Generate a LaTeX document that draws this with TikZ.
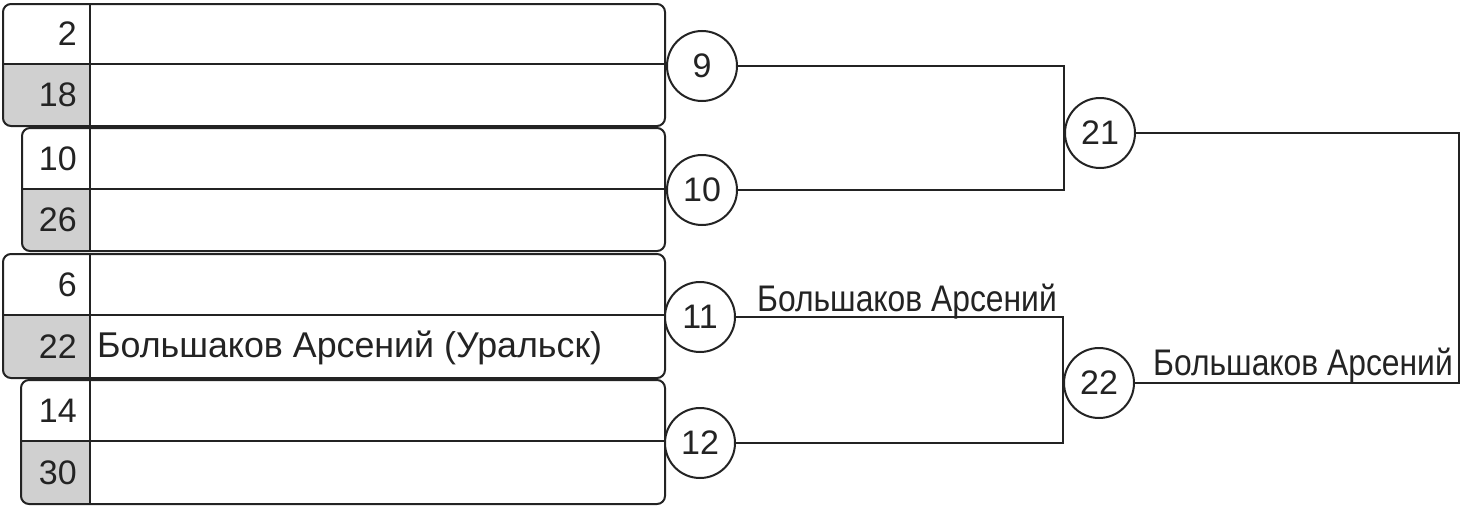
\documentclass[tikz,border=0pt]{standalone}
\usepackage{fontspec}
\setmainfont{Liberation Sans}
\usetikzlibrary{calc}
\definecolor{ink}{RGB}{35,35,35}
\definecolor{cellgray}{RGB}{208,208,208}
\tikzset{
  conn/.style={draw=ink, line width=2pt},
  blockbox/.style={draw=ink, line width=2pt, rounded corners=8pt, inner sep=0pt, anchor=north west},
  game/.style={circle, draw=ink, line width=2pt, fill=white, minimum size=70pt, inner sep=0pt, text=ink, font=\fontsize{34}{34}\selectfont},
  seed/.style={anchor=base east, inner sep=0pt, text=ink, font=\fontsize{34}{34}\selectfont},
  player/.style={anchor=base west, inner sep=0pt, text=ink, font=\fontsize{35.8}{36}\selectfont},
  winner/.style={anchor=base west, inner sep=0pt, text=ink, font=\fontsize{37}{37}\selectfont},
}
% #1 name, #2 left, #3 top, #4 bottom, #5 mid, #6 top seed, #7 bottom seed
\newcommand\mkblock[7]{%
  \begin{scope}
    \clip[rounded corners=8pt] (#2,#3) rectangle (664,#4);
    \fill[cellgray] (#2,#5) rectangle (90,#4);
  \end{scope}
  \node[blockbox, minimum width={664-#2}, minimum height={#4-#3}] (#1) at (#2,#3) {};
  \draw[conn] (90,#3) -- (90,#4);
  \coordinate (#1l) at (#2,#5);
  \coordinate (#1r) at (664,#5);
  \draw[conn] (#1l) -- (#1r);
  \node[seed] (#1s1) at (77,{(#3+#5)/2+12}) {#6};
  \node[seed] (#1s2) at (77,{(#5+#4)/2+12}) {#7};
}
\begin{document}
\begin{tikzpicture}[x=1pt, y=-1pt]
  \useasboundingbox (0,0) rectangle (1463,514);
  \mkblock{b1}{2}{3}{125}{64}{2}{18}
  \mkblock{b2}{21}{127}{250}{189}{10}{26}
  \mkblock{b3}{2}{253}{377}{315}{6}{22}
  \mkblock{b4}{20}{379}{503}{441}{14}{30}
  \node[player] (p22) at (97,357) {Большаков Арсений (Уральск)};

  \node[game] (c9)  at (702,66)  {9};
  \node[game] (c10) at (702,190) {10};
  \node[game] (c11) at (700,317) {11};
  \node[game] (c12) at (700,443) {12};
  \node[game] (c21) at (1100,133) {21};
  \node[game] (c22) at (1099,383) {22};
  \coordinate (fin) at (1459,258);

  \draw[conn] (c9.east) -| (c21.west) |- (c10.east);
  \draw[conn] (c11.east) -| (c22.west) |- (c12.east);
  \draw[conn] (c21.east) -| (fin) |- (c22.east);

  \node[winner] (w11) at (757,311) {\scalebox{0.86}[1]{Большаков Арсений}};
  \node[winner] (w22) at (1153,375) {\scalebox{0.86}[1]{Большаков Арсений}};
\end{tikzpicture}
\end{document}
